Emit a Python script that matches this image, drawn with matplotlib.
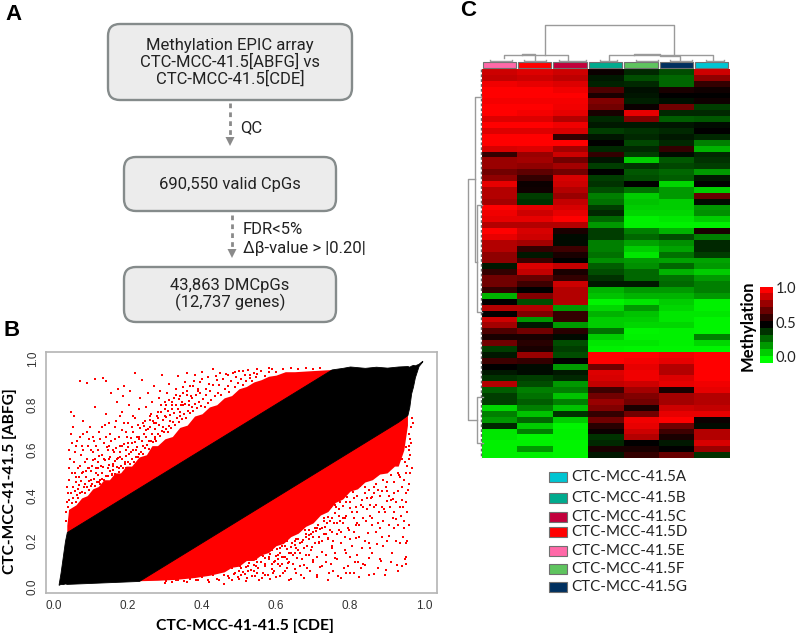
import numpy as np
import matplotlib
matplotlib.use("Agg")
import matplotlib.pyplot as plt
from matplotlib.colors import LinearSegmentedColormap
from matplotlib.patches import FancyBboxPatch, Rectangle

W, H = 796, 637

# panel B, values
black_x = [0.013, 0.018, 0.024, 0.03, 0.035, 0.23, 0.75, 0.78, 0.8, 0.84, 0.87, 0.9, 0.93, 0.955, 0.96, 0.965, 0.97, 0.975, 0.985, 0.995]
black_hi = [0.012, 0.06, 0.13, 0.2, 0.24, 0.435, 0.955, 0.962, 0.968, 0.962, 0.967, 0.963, 0.968, 0.97, 0.967, 0.972, 0.975, 0.973, 0.98, 0.993]
black_lo = [0.008, 0.012, 0.011, 0.014, 0.012, 0.025, 0.545, 0.575, 0.595, 0.635, 0.665, 0.695, 0.725, 0.755, 0.79, 0.85, 0.88, 0.92, 0.97, 0.99]

red_up_x = [0.035, 0.04, 0.06, 0.075, 0.09, 0.105, 0.12, 0.135, 0.15, 0.165, 0.18, 0.195, 0.21, 0.23, 0.25, 0.265, 0.28, 0.3, 0.32, 0.34, 0.36, 0.38, 0.4, 0.42, 0.44, 0.46, 0.48, 0.5, 0.52, 0.54, 0.56, 0.58, 0.6, 0.625, 0.65, 0.7, 0.755]
red_up_hi = [0.27, 0.34, 0.36, 0.39, 0.40, 0.43, 0.44, 0.47, 0.47, 0.50, 0.50, 0.53, 0.53, 0.57, 0.58, 0.62, 0.62, 0.65, 0.66, 0.70, 0.71, 0.75, 0.76, 0.79, 0.80, 0.83, 0.84, 0.87, 0.88, 0.90, 0.91, 0.925, 0.93, 0.945, 0.945, 0.95, 0.955]
red_up_lo = [0.24, 0.24, 0.26, 0.27, 0.29, 0.30, 0.32, 0.33, 0.35, 0.36, 0.38, 0.39, 0.41, 0.43, 0.45, 0.46, 0.48, 0.5, 0.52, 0.54, 0.56, 0.58, 0.6, 0.62, 0.64, 0.66, 0.68, 0.7, 0.72, 0.74, 0.76, 0.78, 0.8, 0.82, 0.85, 0.9, 0.95]

red_low_x = [0.23, 0.28, 0.33, 0.38, 0.42, 0.46, 0.48, 0.5, 0.52, 0.54, 0.56, 0.58, 0.6, 0.62, 0.64, 0.66, 0.68, 0.7, 0.72, 0.74, 0.76, 0.78, 0.8, 0.82, 0.84, 0.86, 0.88, 0.9, 0.92, 0.93, 0.945, 0.955]
red_low_hi = [0.035, 0.09, 0.14, 0.19, 0.23, 0.27, 0.29, 0.31, 0.33, 0.35, 0.37, 0.39, 0.41, 0.43, 0.45, 0.47, 0.49, 0.51, 0.53, 0.55, 0.57, 0.59, 0.61, 0.63, 0.65, 0.67, 0.69, 0.71, 0.73, 0.74, 0.755, 0.76]
red_low_lo = [0.026, 0.028, 0.032, 0.04, 0.05, 0.065, 0.085, 0.09, 0.115, 0.115, 0.14, 0.15, 0.18, 0.19, 0.22, 0.235, 0.265, 0.28, 0.315, 0.33, 0.37, 0.385, 0.42, 0.43, 0.46, 0.47, 0.495, 0.5, 0.53, 0.53, 0.6, 0.71]

upper_points = [
    (.032, .29), (.034, .33), (.036, .37), (.038, .41), (.035, .44), (.04, .47), (.042, .52), (.044, .56),
    (.04, .6), (.048, .63), (.045, .67), (.052, .7), (.046, .77), (.055, .75), (.058, .5), (.06, .46),
    (.056, .59), (.062, .64), (.065, .43), (.068, .48), (.07, .53), (.072, .58), (.075, .62), (.078, .67),
    (.08, .73), (.07, .905), (.09, .897), (.085, .45), (.088, .51), (.09, .56), (.092, .62), (.095, .65),
    (.098, .7), (.1, .47), (.102, .53), (.105, .59), (.108, .64), (.11, .79), (.112, .913), (.115, .5),
    (.118, .55), (.12, .6), (.122, .68), (.125, .47), (.128, .53), (.13, .58), (.133, .919), (.135, .63),
    (.138, .71), (.14, .76), (.142, .905), (.145, .52), (.148, .56), (.15, .62), (.152, .67), (.155, .85),
    (.158, .49), (.16, .54), (.163, .59), (.165, .65), (.168, .73), (.17, .81), (.172, .87), (.175, .52),
    (.178, .57), (.18, .62), (.183, .69), (.185, .77), (.188, .84), (.19, .88), (.193, .55), (.195, .6),
    (.198, .66), (.2, .72), (.203, .8), (.205, .86), (.208, .59), (.21, .63), (.213, .68), (.215, .75),
    (.219, .938), (.222, .6), (.225, .66), (.228, .71), (.23, .78), (.233, .83), (.237, .909), (.24, .62),
    (.243, .67), (.246, .73), (.25, .79), (.253, .85), (.256, .64), (.26, .7), (.263, .76), (.266, .81),
    (.27, .88), (.273, .66), (.276, .72), (.28, .77), (.283, .83), (.286, .86), (.293, .931), (.296, .7),
    (.299, .75), (.303, .8), (.306, .85), (.31, .89), (.315, .73), (.32, .78), (.325, .83), (.33, .87),
    (.336, .924), (.34, .77), (.345, .81), (.35, .85), (.355, .9), (.36, .94), (.365, .8), (.37, .84),
    (.375, .88), (.38, .93), (.39, .86), (.395, .9), (.4, .945), (.41, .87), (.415, .92), (.42, .89),
    (.431, .956), (.44, .91), (.45, .94), (.47, .93), (.49, .945), (.51, .95), (.53, .93), (.55, .955),
    (.58, .96),
    (.037, .352), (.041, .383), (.043, .331), (.047, .412), (.049, .368), (.051, .437), (.053, .391), (.057, .421),
    (.059, .372), (.061, .483), (.063, .402), (.066, .391), (.069, .447), (.071, .412), (.074, .463), (.077, .418),
    (.079, .506), (.082, .436), (.084, .412), (.086, .481), (.089, .436), (.091, .523), (.094, .427), (.096, .466),
    (.099, .441), (.101, .507), (.104, .451), (.106, .558), (.109, .474), (.111, .442), (.113, .523), (.116, .462),
    (.119, .491), (.121, .462), (.123, .573), (.126, .451), (.129, .498), (.131, .474), (.134, .528), (.136, .471),
    (.139, .556), (.141, .487), (.144, .612), (.146, .486), (.149, .533), (.151, .508), (.153, .572), (.156, .497),
    (.159, .53), (.161, .513), (.164, .553), (.166, .497), (.169, .608), (.171, .524), (.174, .567), (.176, .505),
    (.179, .591), (.181, .531), (.184, .561), (.186, .522), (.189, .627), (.191, .538), (.194, .574), (.196, .521),
    (.199, .615), (.201, .548), (.204, .585), (.206, .538), (.209, .652), (.211, .561), (.214, .601), (.216, .549),
    (.218, .634), (.221, .568), (.224, .615), (.226, .572), (.229, .648), (.231, .583), (.234, .697), (.236, .593),
    (.239, .641), (.241, .584), (.244, .705), (.247, .611), (.249, .657), (.252, .623), (.254, .692), (.257, .605),
    (.259, .731), (.262, .641), (.264, .671), (.267, .638), (.269, .728), (.272, .648), (.274, .692), (.277, .642),
    (.279, .751), (.282, .672), (.284, .71), (.287, .664), (.289, .798), (.292, .684), (.294, .733), (.297, .68),
    (.299, .812), (.302, .692), (.304, .745), (.307, .682), (.309, .771), (.312, .706), (.314, .756), (.317, .698),
    (.319, .814), (.322, .722), (.324, .764), (.327, .711), (.329, .843), (.332, .741), (.334, .782), (.337, .724),
    (.339, .826), (.342, .751), (.344, .797), (.347, .738), (.349, .878), (.352, .761), (.354, .803), (.357, .742),
    (.359, .841), (.362, .772), (.364, .816), (.367, .763), (.369, .882), (.372, .788), (.374, .831), (.377, .774),
    (.379, .906), (.382, .801), (.384, .842), (.387, .786), (.389, .871), (.392, .812), (.394, .851), (.397, .796),
    (.399, .912), (.403, .825), (.407, .79), (.412, .843), (.416, .808), (.421, .862), (.425, .822), (.43, .885),
    (.434, .838), (.438, .926), (.443, .852), (.447, .885), (.452, .841), (.456, .912), (.461, .867), (.465, .934),
    (.47, .882), (.474, .856), (.479, .905), (.483, .941), (.488, .876), (.492, .92), (.497, .895), (.501, .948),
    (.506, .912), (.51, .885), (.515, .931), (.52, .902), (.525, .952), (.53, .918), (.535, .903), (.54, .94),
    (.545, .921), (.55, .935), (.56, .948), (.57, .928), (.58, .942), (.59, .957), (.6, .945), (.62, .958),
    (.64, .961), (.66, .956), (.68, .963), (.7, .958), (.72, .962),
    (.05, .5), (.055, .55), (.06, .62), (.065, .52), (.07, .66), (.075, .5), (.08, .6), (.085, .55),
    (.09, .68), (.095, .52), (.1, .6), (.105, .66), (.11, .56), (.115, .62), (.12, .52), (.125, .65),
    (.13, .7), (.135, .56), (.14, .66), (.145, .6), (.15, .72), (.155, .64), (.16, .6), (.165, .7),
    (.17, .56), (.175, .66), (.18, .75), (.185, .62), (.19, .72), (.195, .68), (.2, .63), (.21, .7),
    (.22, .74), (.23, .66), (.24, .72), (.25, .69), (.26, .75), (.27, .72), (.28, .74), (.29, .77),
    (.3, .78), (.31, .82), (.32, .8), (.33, .8), (.34, .84), (.35, .8), (.36, .86),
]

lower_points = [
    (.3, .018), (.33, .028), (.36, .022), (.39, .03), (.42, .02), (.44, .035), (.46, .012), (.47, .045),
    (.48, .028), (.49, .06), (.5, .035), (.505, .08), (.51, .11), (.515, .055), (.52, .025), (.525, .09),
    (.53, .13), (.535, .045), (.54, .07), (.545, .17), (.55, .11), (.555, .03), (.56, .14), (.565, .06),
    (.57, .09), (.575, .19), (.58, .12), (.585, .035), (.59, .16), (.595, .07), (.6, .22), (.605, .1),
    (.61, .045), (.615, .18), (.62, .13), (.625, .07), (.63, .2), (.635, .03), (.64, .24), (.645, .1),
    (.65, .15), (.655, .06), (.66, .27), (.665, .19), (.67, .12), (.675, .04), (.68, .22), (.685, .08),
    (.69, .3), (.695, .16), (.7, .11), (.705, .26), (.71, .05), (.715, .19), (.72, .33), (.725, .09),
    (.73, .23), (.735, .14), (.74, .03), (.745, .29), (.75, .18), (.755, .07), (.76, .36), (.765, .12),
    (.77, .25), (.775, .04), (.78, .4), (.785, .16), (.79, .31), (.795, .09), (.8, .21), (.805, .44),
    (.81, .06), (.815, .35), (.82, .14), (.825, .27), (.83, .48), (.835, .1), (.84, .2), (.845, .39),
    (.85, .05), (.855, .31), (.86, .15), (.865, .44), (.87, .24), (.875, .08), (.88, .52), (.885, .35),
    (.89, .18), (.895, .05), (.9, .42), (.905, .27), (.91, .11), (.915, .58), (.92, .33), (.925, .2),
    (.93, .07), (.935, .48), (.94, .38), (.945, .26), (.95, .13), (.952, .1), (.955, .2), (.948, .55),
    (.958, .45), (.96, .6), (.962, .5), (.965, .7), (.968, .52), (.78, .28), (.8, .13), (.82, .33),
    (.84, .44), (.86, .27), (.88, .12), (.9, .2), (.92, .46), (.94, .09), (.77, .34), (.75, .24),
    (.73, .3), (.71, .13), (.69, .21), (.67, .26), (.65, .2), (.63, .12), (.61, .15), (.59, .1),
    (.57, .15), (.55, .06), (.87, .36), (.89, .29), (.91, .38), (.93, .27), (.95, .41), (.85, .19),
    (.83, .08), (.81, .24), (.79, .06), (.76, .15), (.74, .21),
    (.302, .024), (.311, .035), (.319, .021), (.327, .041), (.336, .03), (.344, .052), (.352, .026), (.361, .047),
    (.369, .035), (.377, .062), (.385, .031), (.393, .058), (.401, .042), (.409, .075), (.416, .028), (.423, .065),
    (.431, .049), (.438, .088), (.445, .03), (.452, .071), (.459, .052), (.466, .099), (.473, .037), (.48, .081),
    (.486, .056), (.492, .118), (.498, .041), (.504, .092), (.51, .065), (.516, .132), (.521, .038), (.527, .105),
    (.532, .073), (.537, .152), (.542, .047), (.547, .122), (.552, .083), (.557, .168), (.561, .036), (.566, .136),
    (.57, .098), (.575, .183), (.579, .052), (.584, .145), (.588, .076), (.592, .197), (.596, .114), (.6, .043),
    (.604, .165), (.608, .212), (.612, .089), (.616, .131), (.62, .058), (.624, .178), (.628, .226), (.632, .102),
    (.636, .147), (.64, .035), (.644, .193), (.648, .243), (.652, .078), (.656, .124), (.66, .162), (.664, .268),
    (.668, .051), (.672, .206), (.676, .095), (.68, .141), (.684, .282), (.688, .227), (.692, .068), (.696, .176),
    (.7, .118), (.704, .305), (.708, .243), (.712, .043), (.716, .198), (.72, .087), (.724, .153), (.728, .323),
    (.732, .261), (.736, .108), (.74, .214), (.744, .062), (.748, .348), (.752, .171), (.756, .281), (.76, .127),
    (.764, .231), (.768, .048), (.772, .372), (.776, .193), (.78, .302), (.784, .084), (.788, .149), (.792, .396),
    (.796, .248), (.8, .061), (.804, .329), (.808, .418), (.812, .108), (.816, .214), (.82, .278), (.824, .043),
    (.828, .441), (.832, .169), (.836, .352), (.84, .093), (.844, .466), (.848, .236), (.852, .128), (.856, .391),
    (.86, .302), (.864, .056), (.868, .489), (.872, .186), (.876, .424), (.88, .258), (.884, .112), (.888, .51),
    (.892, .341), (.896, .071), (.9, .458), (.904, .224), (.908, .528), (.912, .148), (.916, .386), (.92, .544),
    (.924, .298), (.928, .096), (.932, .489), (.936, .193), (.94, .561), (.944, .351), (.948, .121), (.952, .612),
    (.956, .423), (.96, .67), (.963, .58), (.958, .27), (.95, .19), (.946, .47), (.938, .31), (.929, .42),
    (.918, .26), (.909, .35), (.897, .44), (.886, .22), (.877, .33), (.866, .41), (.854, .17), (.843, .29),
    (.833, .38), (.821, .11), (.811, .3), (.799, .37), (.787, .22), (.774, .29), (.762, .35), (.749, .1),
    (.737, .28), (.725, .2), (.713, .27), (.701, .22), (.689, .14), (.677, .25), (.665, .09), (.653, .21),
    (.641, .15), (.629, .08), (.617, .19), (.605, .14), (.593, .06), (.581, .17), (.569, .05), (.545, .09),
    (.525, .07), (.505, .05),
    (.5, .07), (.52, .085), (.54, .095), (.56, .11), (.57, .125), (.58, .13), (.6, .135), (.61, .17),
    (.63, .165), (.64, .175), (.65, .185), (.66, .21), (.67, .195), (.68, .23), (.69, .25), (.7, .24),
    (.71, .26), (.72, .255), (.73, .29), (.74, .305), (.75, .3), (.76, .325), (.77, .31), (.78, .355),
    (.79, .37), (.8, .345), (.81, .39), (.82, .4), (.83, .36), (.84, .41), (.85, .425), (.86, .395),
    (.87, .45), (.88, .4), (.89, .47), (.9, .375), (.91, .49), (.92, .41), (.93, .5), (.94, .44),
    (.95, .5), (.955, .53), (.96, .56), (.958, .62), (.962, .65), (.966, .74), (.97, .72), (.965, .63),
    (.955, .33), (.952, .37), (.947, .29), (.942, .22), (.935, .35), (.925, .37), (.915, .3), (.905, .4),
    (.895, .33), (.885, .42), (.875, .28), (.865, .35), (.855, .36), (.845, .34), (.835, .3), (.825, .22),
    (.815, .27), (.805, .18), (.795, .26), (.785, .3), (.775, .24), (.765, .28), (.755, .2), (.745, .25),
    (.735, .23), (.725, .26), (.715, .22), (.705, .19), (.695, .23), (.685, .18), (.675, .17), (.665, .15),
    (.655, .17), (.645, .14), (.635, .11), (.625, .13), (.615, .1), (.605, .12), (.595, .11),
]

# heatmap rows, columns in drawn order E D C B F G A
heat_rows = [
    [.90, .93, .90, .52, .42, .35, .90],
    [.88, .90, .87, .45, .35, .30, .78],
    [.97, .95, .93, .43, .42, .30, .60],
    [1.0, 1.0, .97, .65, .47, .55, .53],
    [1.0, 1.0, 1.0, .55, .46, .50, .50],
    [.98, .98, .98, .75, .44, .47, .53],
    [1.0, 1.0, .97, .72, .52, .72, .38],
    [1.0, .98, .95, .55, .95, .42, .42],
    [.93, .93, .85, .42, .75, .32, .33],
    [1.0, 1.0, .97, .45, .45, .46, .48],
    [.93, .93, .92, .38, .40, .42, .50],
    [1.0, 1.0, .60, .46, .42, .45, .42],
    [1.0, 1.0, 1.0, .50, .36, .42, .25],
    [.92, .93, .82, .42, .42, .60, .15],
    [.60, .80, .90, .60, .38, .48, .42],
    [.80, .82, .72, .46, .10, .33, .40],
    [.80, .78, .82, .38, .40, .36, .38],
    [.72, .68, .72, .50, .33, .30, .20],
    [.78, .60, .92, .38, .35, .32, .45],
    [.95, .52, .90, .40, .50, .08, .50],
    [.85, .53, .85, .35, .28, .20, .10],
    [.85, .38, .80, .25, .10, .20, .70],
    [.82, .40, .88, .28, .12, .10, .47],
    [1.0, .95, .92, .38, .10, .10, .20],
    [.97, .90, .95, .42, .08, .08, .22],
    [.95, .95, 1.0, .30, .03, .05, .10],
    [.85, .85, .85, .20, .03, .03, .03],
    [1.0, .92, .55, .38, .25, .15, .55],
    [.95, .90, .48, .38, .30, .35, .25],
    [.85, .82, .48, .25, .18, .22, .42],
    [.85, .60, .62, .25, .10, .18, .42],
    [.78, .45, .55, .28, .05, .28, .38],
    [.78, .62, .50, .22, .20, .18, .18],
    [.45, .93, .88, .32, .22, .30, .20],
    [.60, .88, .55, .35, .30, .15, .10],
    [.72, .70, .60, .40, .30, .28, .20],
    [.72, .62, .90, .45, .45, .30, .25],
    [.60, .50, .85, .15, .20, .20, .25],
    [.15, .75, .85, .12, .15, .15, .20],
    [.50, .35, .85, .02, .05, .10, .03],
    [.85, .85, .20, .08, .20, .08, .03],
    [.50, .75, .60, .15, .12, .05, .05],
    [.90, .20, .60, .10, .10, .05, .02],
    [.82, .45, .20, .10, .08, .08, .02],
    [.65, .72, .58, .28, .02, .03, .02],
    [.55, .55, .48, .10, .03, .03, .25],
    [.72, .58, .35, .05, .05, .03, .08],
    [.38, .55, .38, .03, .02, .02, .02],
    [.45, .80, .35, 1.0, 1.0, .97, 1.0],
    [.62, .60, .50, 1.0, .98, .95, 1.0],
    [.50, .48, .20, .72, .95, .85, 1.0],
    [.45, .48, .45, .93, .97, .85, 1.0],
    [.40, .38, .42, .92, .97, .93, 1.0],
    [.85, .35, .20, .88, .90, .95, .97],
    [.32, .25, .25, .62, .82, .55, .95],
    [.38, .28, .12, .72, .75, .82, .85],
    [.38, .32, .25, .80, .72, .82, .85],
    [.08, .25, .12, .75, .55, .90, .88],
    [.25, .12, .40, .60, .72, .95, .95],
    [.20, .30, .10, .72, .97, 1.0, .52],
    [.42, .10, .02, .58, .95, .72, .48],
    [.05, .25, .03, .52, .90, .62, .85],
    [.05, .02, .03, .40, .85, .55, .85],
    [.03, .03, .02, .42, .50, .45, .92],
    [.03, .20, .02, .55, .55, .50, .80],
    [.03, .03, .02, .45, .60, .70, .40],
]
colorbar_levels = [1.0, .9, .8, .7, .6, .5, .4, .3, .2, .1, 0.0]
colorbar_ticks = ["1.0", "0.5", "0.0"]

col_colors = ["#ff69a8", "#ff0000", "#c2003c", "#00ab8e", "#5fc45f", "#00305f", "#00c5d2"]

legend_names = ["CTC-MCC-41.5A", "CTC-MCC-41.5B", "CTC-MCC-41.5C", "CTC-MCC-41.5D",
                "CTC-MCC-41.5E", "CTC-MCC-41.5F", "CTC-MCC-41.5G"]
legend_colors = ["#00c5d2", "#00ab8e", "#c2003c", "#ff0000", "#ff69a8", "#5fc45f", "#00305f"]
legend_y = [477, 498, 517, 532, 551, 569, 587]

flow_boxes = [
    (108, 24, 244, 76, "Methylation EPIC array\nCTC-MCC-41.5[ABFG] vs\nCTC-MCC-41.5[CDE]"),
    (124, 157, 212, 54, "690,550 valid CpGs"),
    (124, 267, 212, 55, "43,863 DMCpGs\n(12,737 genes)"),
]


def px_axes(left, top, right, bottom):
    return fig.add_axes([left / W, 1 - bottom / H, (right - left) / W, (bottom - top) / H])


fig = plt.figure(figsize=(W / 100, H / 100), dpi=100)
green_black_red = LinearSegmentedColormap.from_list("gbr", ["#00ff00", "#000000", "#ff0000"])

# panel B
ax = px_axes(45.7, 351.7, 436.7, 593)
ax.fill_between(red_up_x, red_up_lo, red_up_hi, color="#ff0000", lw=0)
ax.fill_between(red_low_x, red_low_lo, red_low_hi, color="#ff0000", lw=0)
up = np.array(upper_points)
low = np.array(lower_points)
ax.scatter(up[:, 0], up[:, 1], s=3.6, c="#ff0000", marker="s", linewidths=0)
ax.scatter(low[:, 0], low[:, 1], s=3.6, c="#ff0000", marker="s", linewidths=0)
ax.fill_between(black_x, black_lo, black_hi, color="black", lw=0.6)
ax.set_xlim(-0.022, 1.034)
ax.set_ylim(-0.028, 1.033)
ax.set_xticks([0, .2, .4, .6, .8, 1])
ax.set_yticks([0, .2, .4, .6, .8, 1])
ax.set_xticklabels(["0.0", "0.2", "0.4", "0.6", "0.8", "1.0"])
ax.set_yticklabels(["0.0", "0.2", "0.4", "0.6", "0.8", "1.0"], rotation=90, va="center")
ax.tick_params(labelsize=8.5, length=0, pad=5, labelcolor="#333333", labelfontfamily="Liberation Sans")
for s in ax.spines.values():
    s.set_color("#b4b4b4")
    s.set_linewidth(1.2)

# panel C heatmap
hm = px_axes(482, 69, 730, 458)
hm.imshow(heat_rows, cmap=green_black_red, vmin=0, vmax=1, aspect="auto", interpolation="nearest")
hm.axis("off")

cb = px_axes(760, 287, 773, 363)
cb.imshow([[v] for v in colorbar_levels], cmap=green_black_red, vmin=0, vmax=1, aspect="auto")
cb.axis("off")

# everything else is placed in pixel coordinates on an overlay
ov = fig.add_axes([0, 0, 1, 1], zorder=5)
ov.set_xlim(0, W)
ov.set_ylim(H, 0)
ov.axis("off")

for x, y, w, h, label in flow_boxes:
    ov.add_patch(FancyBboxPatch((x + 9, y + 9), w - 18, h - 18, boxstyle="round,pad=9,rounding_size=12",
                                fc="#ececec", ec="#858b8b", lw=1.7))
    ov.text(x + w / 2, y + h / 2, label, ha="center", va="center", fontsize=12, family="Roboto",
            color="#222222", linespacing=1.05)

for x, y0, y1 in [(230, 103, 146), (232, 215, 258)]:
    ov.plot([x, x], [y0, y1 - 8], color="#8a8a8a", lw=2, ls=(0, (1.7, 1.5)))
    ov.fill([x - 4.5, x + 4.5, x], [y1 - 9, y1 - 9, y1 - 0], color="#8a8a8a", lw=0)
ov.text(240, 128, "QC", fontsize=12, family="Roboto", va="center", color="#222222")
ov.text(243, 229, "FDR<5%", fontsize=12, family="Roboto", va="center", color="#222222")
ov.text(243, 248, "\u0394\u03b2-value > |0.20|", fontsize=12, family="Roboto", va="center", color="#222222")

ov.text(13, 15, "A", fontsize=16, fontweight="bold", family="Liberation Sans", ha="center", va="center")
ov.text(12, 330, "B", fontsize=16, fontweight="bold", family="Liberation Sans", ha="center", va="center")
ov.text(468, 10, "C", fontsize=16, fontweight="bold", family="Liberation Sans", ha="center", va="center")

ov.text(245, 626, "CTC-MCC-41-41.5 [CDE]", fontsize=11.3, fontweight="bold", family="Lato",
        ha="center", va="center")
ov.text(10, 481, "CTC-MCC-41-41.5 [ABFG]", fontsize=11.2, fontweight="bold", family="Lato",
        ha="center", va="center", rotation=90)

# column annotation strip
for i, c in enumerate(col_colors):
    ov.add_patch(Rectangle((482.5 + i * 35.4, 62.3), 33.5, 5.7, fc=c, ec="#707070", lw=0.8))

# dendrograms
tree_color = "#9a9a9a"
top_tree = [
    [(545, 55), (545, 25), (674, 25), (674, 55)],
    [(504, 58), (504, 55), (568, 55), (568, 60)],
    [(522, 55), (522, 54), (535, 54), (535, 60)],
    [(490, 60), (490, 61), (512, 61), (512, 60)],
    [(524, 60), (524, 61), (546, 61), (546, 60)],
    [(559, 60), (559, 61), (586, 61), (586, 60)],
    [(609, 60), (609, 55), (713, 55), (713, 60)],
    [(634, 55), (634, 54), (660, 54), (660, 56), (680, 56), (680, 60)],
    [(600, 60), (600, 61), (617, 61), (617, 60)],
    [(636, 60), (636, 61), (658, 61), (658, 60)],
    [(670, 60), (670, 61), (692, 61), (692, 60)],
    [(706, 60), (706, 61), (724, 61), (724, 60)],
]
left_tree = [
    [(475, 179), (468, 179), (468, 420), (477, 420)],
    [(481, 97), (475, 97), (475, 262), (477, 262)],
    [(482, 205), (477, 205), (477, 312), (482, 312)],
    [(483, 397), (477, 397), (477, 443), (483, 443)],
]
for seg in top_tree + left_tree:
    pts = np.array(seg)
    ov.plot(pts[:, 0], pts[:, 1], color=tree_color, lw=1)
ov.plot([481, 481], [69, 458], color="#666666", lw=1, ls=(0, (2, 1.5)))

# legends
for name, c, y in zip(legend_names, legend_colors, legend_y):
    ov.add_patch(Rectangle((548.5, y - 5), 18.5, 10, fc=c, ec="#707070", lw=0.8))
    ov.text(571, y, name, fontsize=10.9, family="Lato", va="center", color="#222222")

ov.text(748, 326, "Methylation", fontsize=12, fontweight="bold", family="Lato", rotation=90,
        ha="center", va="center")
for label, y in zip(colorbar_ticks, [289, 324, 358]):
    ov.text(776, y, label, fontsize=10.6, family="Lato", va="center", color="#222222")

fig.savefig("out.png", dpi=100)
